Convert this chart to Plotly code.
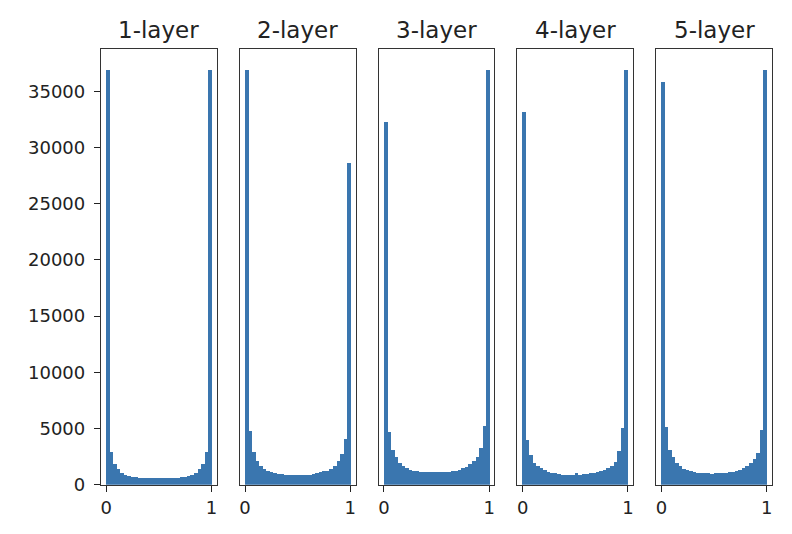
import numpy as np
import plotly.graph_objects as go

titles = ["1-layer", "2-layer", "3-layer", "4-layer", "5-layer"]
n_bins = 30
bin_range = (0.0, 1.0)

counts_1 = [36900, 2900, 1880, 1420, 1080, 900, 760, 680, 640, 620, 600, 600, 590, 590, 590,
            590, 590, 590, 600, 600, 620, 640, 680, 760, 900, 1080, 1420, 1880, 2900, 36900]
counts_2 = [36900, 4800, 2880, 2140, 1690, 1400, 1250, 1160, 1040, 950, 950, 900, 860, 860, 860,
            860, 860, 860, 900, 950, 1010, 1100, 1190, 1250, 1400, 1690, 2140, 2730, 4070, 28650]
counts_3 = [32260, 4690, 3100, 2450, 1950, 1650, 1450, 1330, 1250, 1200, 1150, 1100, 1100, 1100, 1100,
            1100, 1100, 1100, 1100, 1200, 1250, 1340, 1450, 1600, 1800, 2100, 2500, 3300, 5200, 36870]
counts_4 = [33150, 4000, 2600, 1900, 1650, 1450, 1300, 1150, 1050, 1000, 950, 900, 900, 900, 900,
            1050, 900, 950, 950, 1000, 1050, 1150, 1250, 1350, 1500, 1700, 2000, 3000, 5000, 36870]
counts_5 = [35790, 5130, 3100, 2450, 1950, 1650, 1430, 1290, 1190, 1130, 1070, 1070, 1070, 1070, 920,
            1070, 1070, 1070, 1070, 1100, 1150, 1250, 1350, 1500, 1650, 1900, 2300, 2800, 4850, 36870]
all_counts = [counts_1, counts_2, counts_3, counts_4, counts_5]

y_ticks = [0, 5000, 10000, 15000, 20000, 25000, 30000, 35000]
x_ticks = [0, 1]

edges = np.linspace(bin_range[0], bin_range[1], n_bins + 1)
centers = (edges[:-1] + edges[1:]) / 2
bw = edges[1] - edges[0]

W, H = 792, 534
OFF = 8        # page offset of the plot div
SY = 0.982     # vertical squeeze of the page in the snapshot


def ypage(target):
    return target / SY - OFF


left_px, right_px = 101, 772
gap_px = 23
pw = (right_px - left_px - 4 * gap_px) / 5
top_px, bot_px = 49, 485
ydom = [1 - ypage(bot_px) / H, 1 - ypage(top_px) / H]
ymax = max(max(c) for c in all_counts) * 1.05

fig = go.Figure()
layout = dict(
    width=W, height=H, margin=dict(l=0, r=0, t=0, b=0),
    paper_bgcolor="white", plot_bgcolor="white",
    showlegend=False, bargap=0,
    font=dict(family="DejaVu Sans", size=18, color="#222222"),
)
annotations = []
for i, (t, c) in enumerate(zip(titles, all_counts)):
    k = "" if i == 0 else str(i + 1)
    x0 = left_px + i * (pw + gap_px)
    x1 = x0 + pw
    fig.add_trace(go.Bar(x=centers, y=c, width=bw, marker=dict(color="#3a76af", line=dict(width=0)),
                         xaxis="x" + k, yaxis="y" + k))
    layout["xaxis" + k] = dict(
        domain=[(x0 - OFF) / W, (x1 - OFF) / W], anchor="y" + k, range=[-0.05, 1.05],
        tickvals=x_ticks, ticktext=[str(v) for v in x_ticks], ticks="outside", ticklen=6,
        tickwidth=1.2, tickcolor="#222222", showline=True, mirror=True, linecolor="#333333",
        linewidth=1.3, showgrid=False, zeroline=False, fixedrange=True,
    )
    ya = dict(
        domain=ydom, anchor="x" + k, range=[0, ymax], showline=True, mirror=True,
        linecolor="#333333", linewidth=1.3, showgrid=False, zeroline=False,
    )
    if i == 0:
        ya.update(tickvals=y_ticks, ticktext=[str(v) for v in y_ticks], ticks="outside",
                  ticklen=6, tickwidth=1.2, tickcolor="#222222", ticklabelstandoff=5)
    else:
        ya.update(showticklabels=False, ticks="")
    layout["yaxis" + k] = ya
    annotations.append(dict(text=t, x=((x0 + x1) / 2 - OFF) / W, y=1 - ypage(30) / H,
                            xref="paper", yref="paper",
                            showarrow=False, xanchor="center", yanchor="middle",
                            font=dict(size=23, family="DejaVu Sans", color="#222222")))
layout["annotations"] = annotations
fig.update_layout(**layout)
fig.write_html("out.html")
